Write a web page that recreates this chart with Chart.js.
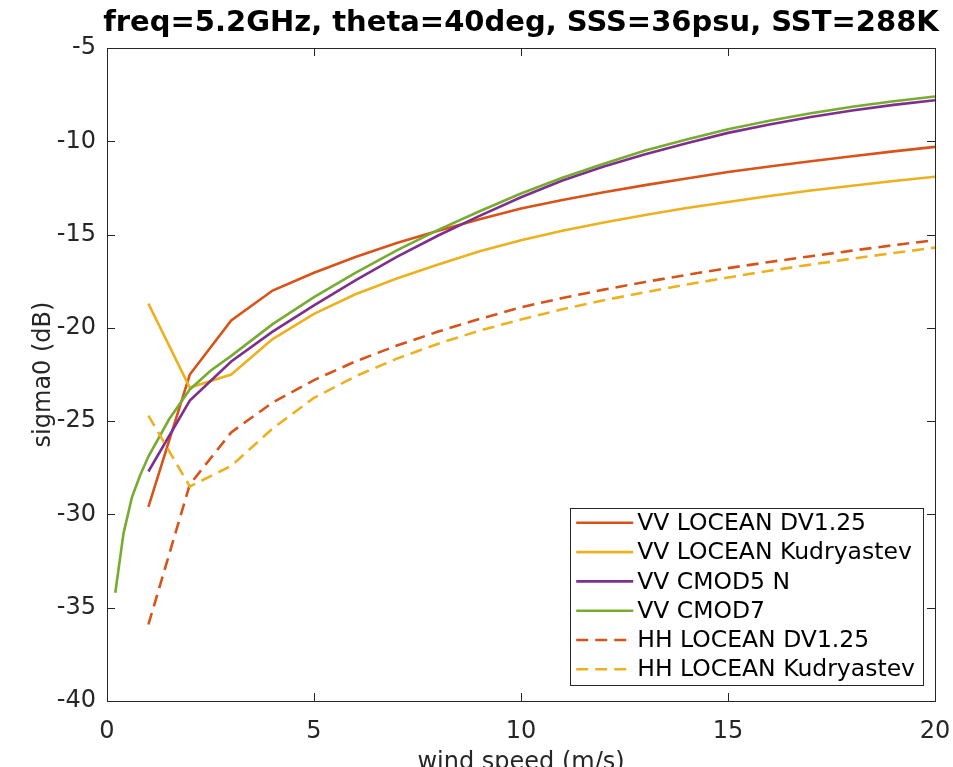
<!DOCTYPE html>
<html>
<head>
<meta charset="utf-8">
<script src="https://cdn.jsdelivr.net/npm/chart.js@4.4.1/dist/chart.umd.min.js"></script>
<style>
html, body { margin: 0; padding: 0; background: #fff; overflow: hidden; }
#wrap { width: 953px; height: 785px; }
</style>
</head>
<body>
<div id="wrap"><canvas id="sigmaChart"></canvas></div>
<script>
// wind speeds (m/s)
var windLocean = [1, 2, 3, 4, 5, 6, 7, 8, 9, 10, 11, 12, 13, 14, 15, 16, 17, 18, 19, 20];
var windCmod7 = [0.2, 0.4, 0.6, 0.8, 1, 1.5, 2, 2.5, 3, 4, 5, 6, 7, 8, 9, 10, 11, 12, 13, 14, 15, 16, 17, 18, 19, 20];

// sigma0 (dB)
var vvDv125 = [-29.6, -22.5, -19.6, -18.0, -17.05, -16.2, -15.45, -14.8, -14.18, -13.6, -13.15, -12.73, -12.35, -11.99, -11.65, -11.35, -11.07, -10.8, -10.54, -10.3];
var vvKudr = [-18.7, -23.2, -22.5, -20.6, -19.25, -18.2, -17.35, -16.6, -15.9, -15.3, -14.8, -14.35, -13.95, -13.58, -13.25, -12.93, -12.64, -12.38, -12.13, -11.9];
var vvCmod5n = [-27.7, -23.9, -21.8, -20.2, -18.8, -17.45, -16.2, -15.05, -14.0, -13.0, -12.1, -11.35, -10.7, -10.1, -9.55, -9.1, -8.7, -8.35, -8.05, -7.8];
var vvCmod7 = [-34.2, -31.0, -29.1, -27.9, -26.9, -24.9, -23.3, -22.3, -21.5, -19.8, -18.35, -17.05, -15.85, -14.75, -13.75, -12.8, -11.95, -11.2, -10.5, -9.9, -9.35, -8.9, -8.5, -8.15, -7.85, -7.6];
var hhDv125 = [-35.9, -28.4, -25.6, -24.0, -22.8, -21.8, -20.95, -20.2, -19.52, -18.9, -18.4, -17.95, -17.54, -17.16, -16.8, -16.47, -16.16, -15.86, -15.57, -15.3];
var hhKudr = [-24.7, -28.5, -27.4, -25.4, -23.75, -22.6, -21.65, -20.85, -20.15, -19.55, -19.0, -18.52, -18.09, -17.68, -17.3, -16.94, -16.61, -16.29, -15.99, -15.7];

var seriesNames = ['VV LOCEAN DV1.25', 'VV LOCEAN Kudryastev', 'VV CMOD5 N', 'VV CMOD7', 'HH LOCEAN DV1.25', 'HH LOCEAN Kudryastev'];
var seriesColors = ['#D95319', '#EDB120', '#7E2F8E', '#77AC30', '#D95319', '#EDB120'];

var xTicks = [0, 5, 10, 15, 20];
var yTicks = [-40, -35, -30, -25, -20, -15, -10, -5];

var titleText = 'freq=5.2GHz, theta=40deg, SSS=36psu, SST=288K';
var axisColor = '#262626';
var fontFamily = '"DejaVu Sans", sans-serif';

function toPoints(xs, ys) {
	var pts = [];
	for (var i = 0; i < xs.length; i++) {
		pts.push({ x: xs[i], y: ys[i] });
	}
	return pts;
}

function makeSet(idx, xs, ys, dashed) {
	return {
		label: seriesNames[idx],
		data: toPoints(xs, ys),
		borderColor: seriesColors[idx],
		backgroundColor: seriesColors[idx],
		borderWidth: 2.6,
		borderDash: dashed ? [12, 7] : [],
		pointRadius: 0,
		tension: 0,
		fill: false,
		order: 6 - idx  // matlab: later lines on top
	};
}

// box + inward ticks on all four sides, like matlab "box on"
var boxTicks = {
	id: 'boxTicks',
	afterDraw: function(chart) {
		var ctx = chart.ctx;
		var a = chart.chartArea;
		var sx = chart.scales.x, sy = chart.scales.y;
		var len = 8;
		ctx.save();
		ctx.strokeStyle = axisColor;
		ctx.lineWidth = 1;
		ctx.beginPath();
		xTicks.forEach(function(v) {
			var px = Math.round(sx.getPixelForValue(v)) + 0.5;
			ctx.moveTo(px, a.bottom); ctx.lineTo(px, a.bottom - len);
			ctx.moveTo(px, a.top); ctx.lineTo(px, a.top + len);
		});
		yTicks.forEach(function(v) {
			var py = Math.round(sy.getPixelForValue(v)) + 0.5;
			ctx.moveTo(a.left, py); ctx.lineTo(a.left + len, py);
			ctx.moveTo(a.right, py); ctx.lineTo(a.right - len, py);
		});
		ctx.stroke();
		ctx.strokeRect(Math.round(a.left) + 0.5, Math.round(a.top) + 0.5, Math.round(a.right - a.left), Math.round(a.bottom - a.top));
		ctx.restore();
	}
};

// title centred over the plot area, not the whole canvas
var plotTitle = {
	id: 'plotTitle',
	afterDraw: function(chart) {
		var ctx = chart.ctx;
		var a = chart.chartArea;
		ctx.save();
		ctx.font = 'bold 29px ' + fontFamily;
		ctx.fillStyle = '#000';
		ctx.textAlign = 'center';
		ctx.textBaseline = 'middle';
		ctx.fillText(titleText, (a.left + a.right) / 2, 23);
		ctx.restore();
	}
};

// boxed legend in the lower right corner of the plot
var boxLegend = {
	id: 'boxLegend',
	afterDraw: function(chart) {
		var ctx = chart.ctx;
		var a = chart.chartArea;
		var sets = chart.data.datasets;
		var rowH = 29.3, sample = 57, gap = 4;
		ctx.save();
		ctx.font = '23.5px ' + fontFamily;
		var maxW = 0;
		sets.forEach(function(ds) { maxW = Math.max(maxW, ctx.measureText(ds.label).width); });
		var w = 6 + sample + gap + maxW + 8;
		var h = rowH * sets.length + 1;
		var right = a.right - 12, bottom = a.bottom - 16;
		var left = right - w, top = bottom - h;
		ctx.fillStyle = '#fff';
		ctx.fillRect(left, top, w, h);
		ctx.strokeStyle = axisColor;
		ctx.lineWidth = 1;
		ctx.strokeRect(Math.round(left) + 0.5, Math.round(top) + 0.5, Math.round(w), Math.round(h));
		sets.forEach(function(ds, i) {
			var cy = top + 14.6 + i * rowH;
			ctx.strokeStyle = ds.borderColor;
			ctx.lineWidth = ds.borderWidth;
			ctx.setLineDash(ds.borderDash);
			ctx.beginPath();
			ctx.moveTo(left + 6, cy);
			ctx.lineTo(left + 6 + sample, cy);
			ctx.stroke();
			ctx.setLineDash([]);
			ctx.fillStyle = '#000';
			ctx.textAlign = 'left';
			ctx.textBaseline = 'middle';
			ctx.fillText(ds.label, left + 6 + sample + gap, cy + 1);
		});
		ctx.restore();
	}
};

var datasets = [
	makeSet(0, windLocean, vvDv125, false),
	makeSet(1, windLocean, vvKudr, false),
	makeSet(2, windLocean, vvCmod5n, false),
	makeSet(3, windCmod7, vvCmod7, false),
	makeSet(4, windLocean, hhDv125, true),
	makeSet(5, windLocean, hhKudr, true)
];

new Chart(document.getElementById('sigmaChart'), {
	type: 'line',
	data: { datasets: datasets },
	options: {
		responsive: true,
		maintainAspectRatio: false,
		animation: false,
		layout: { padding: { top: 48, right: 18, left: 0, bottom: 0 } },
		plugins: {
			legend: { display: false },
			title: { display: false },
			tooltip: { enabled: false }
		},
		scales: {
			x: {
				type: 'linear',
				min: 0,
				max: 20,
				afterBuildTicks: function(scale) { scale.ticks = xTicks.map(function(v) { return { value: v }; }); },
				afterFit: function(scale) {
					scale.height = 84;
					// edge labels may hang out, the layout padding handles it
					scale.paddingLeft = 0;
					scale.paddingRight = 0;
				},
				grid: { display: false },
				border: { display: false },
				ticks: { color: axisColor, font: { family: fontFamily, size: 24 }, padding: 8, maxRotation: 0 },
				title: { display: true, text: 'wind speed (m/s)', color: axisColor, font: { family: fontFamily, size: 24 }, padding: { top: 0, bottom: 8 } }
			},
			y: {
				type: 'linear',
				min: -40,
				max: -5,
				afterBuildTicks: function(scale) { scale.ticks = yTicks.map(function(v) { return { value: v }; }); },
				afterFit: function(scale) { scale.width = 107; },
				grid: { display: false },
				border: { display: false },
				ticks: { color: axisColor, font: { family: fontFamily, size: 24 }, padding: 3 },
				title: { display: true, text: 'sigma0 (dB)', color: axisColor, font: { family: fontFamily, size: 24 }, padding: { top: 29, bottom: 0 } }
			}
		}
	},
	plugins: [boxTicks, plotTitle, boxLegend]
});
</script>
</body>
</html>
